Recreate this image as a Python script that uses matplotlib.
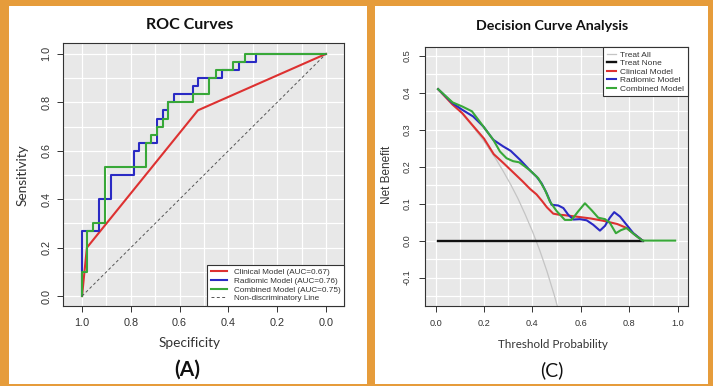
import matplotlib
matplotlib.use('Agg')
import matplotlib.pyplot as plt
from matplotlib.patches import Rectangle
from matplotlib import font_manager
import numpy as np

# ---------------- ROC data (specificity, sensitivity) ----------------
clin_spec = [1.0, 0.98, 0.525, 0.0]
clin_sens = [0.0, 0.2, 0.767, 1.0]

rad_spec = [1.0, 1.0, 0.93, 0.93, 0.881, 0.881, 0.786, 0.786, 0.765, 0.765, 0.694, 0.694,
            0.667, 0.667, 0.646, 0.646, 0.622, 0.622, 0.547, 0.547, 0.524, 0.524, 0.428,
            0.428, 0.357, 0.357, 0.286, 0.286, 0.0]
rad_sens = [0.0, 0.267, 0.267, 0.4, 0.4, 0.5, 0.5, 0.6, 0.6, 0.633, 0.633, 0.733,
            0.733, 0.767, 0.767, 0.8, 0.8, 0.833, 0.833, 0.867, 0.867, 0.9, 0.9,
            0.933, 0.933, 0.967, 0.967, 1.0, 1.0]

comb_spec = [1.0, 1.0, 0.981, 0.981, 0.954, 0.954, 0.905, 0.905, 0.739, 0.739, 0.718, 0.718,
             0.694, 0.694, 0.667, 0.667, 0.646, 0.646, 0.547, 0.547, 0.478, 0.478, 0.451,
             0.451, 0.383, 0.383, 0.332, 0.332, 0.0]
comb_sens = [0.0, 0.1, 0.1, 0.267, 0.267, 0.3, 0.3, 0.533, 0.533, 0.633, 0.633, 0.667,
             0.667, 0.7, 0.7, 0.733, 0.733, 0.8, 0.8, 0.833, 0.833, 0.9, 0.9,
             0.933, 0.933, 0.967, 0.967, 1.0, 1.0]

diag_spec = [1.0, 0.0]
diag_sens = [0.0, 1.0]

roc_labels = ["Clinical Model (AUC=0.67)", "Radiomic Model (AUC=0.76)",
              "Combined Model (AUC=0.75)", "Non-discriminatory Line"]
roc_xticks = [1.0, 0.8, 0.6, 0.4, 0.2, 0.0]
roc_yticks = [0.0, 0.2, 0.4, 0.6, 0.8, 1.0]

# ---------------- DCA data (threshold, net benefit) ----------------
all_thr = [0.01, 0.05, 0.10, 0.15, 0.20, 0.25, 0.28, 0.31, 0.34, 0.37, 0.40, 0.43, 0.46, 0.49, 0.51]
all_nb = [0.409, 0.384, 0.350, 0.312, 0.269, 0.220, 0.187, 0.152, 0.114, 0.071, 0.025,
          -0.026, -0.083, -0.147, -0.194]

none_thr = [0.01, 0.855]
none_nb = [0.0, 0.0]

clin_thr = [0.01, 0.07, 0.11, 0.15, 0.20, 0.24, 0.28, 0.32, 0.36, 0.39, 0.417, 0.44, 0.46,
            0.486, 0.51, 0.53, 0.58, 0.64, 0.69, 0.75, 0.79, 0.82, 0.855]
clin_nb = [0.41, 0.368, 0.345, 0.314, 0.276, 0.234, 0.21, 0.185, 0.16, 0.14, 0.125, 0.107,
           0.09, 0.073, 0.070, 0.069, 0.065, 0.06, 0.054, 0.045, 0.034, 0.018, 0.0]

rad_thr = [0.01, 0.07, 0.11, 0.155, 0.197, 0.238, 0.279, 0.31, 0.35, 0.39, 0.417, 0.438,
           0.459, 0.479, 0.507, 0.528, 0.548, 0.569, 0.596, 0.624, 0.651, 0.679, 0.70,
           0.72, 0.738, 0.762, 0.789, 0.817, 0.855]
rad_nb = [0.41, 0.372, 0.354, 0.336, 0.309, 0.273, 0.255, 0.243, 0.218, 0.19, 0.173, 0.155,
          0.128, 0.097, 0.095, 0.088, 0.07, 0.057, 0.058, 0.055, 0.043, 0.027, 0.04,
          0.062, 0.077, 0.065, 0.043, 0.02, 0.0]

comb_thr = [0.01, 0.07, 0.11, 0.15, 0.197, 0.238, 0.266, 0.293, 0.32, 0.345, 0.37, 0.39,
            0.424, 0.452, 0.472, 0.50, 0.534, 0.562, 0.589, 0.617, 0.645, 0.672, 0.70,
            0.72, 0.745, 0.765, 0.789, 0.824, 0.855, 0.99]
comb_nb = [0.41, 0.374, 0.363, 0.350, 0.309, 0.273, 0.241, 0.223, 0.215, 0.212, 0.20, 0.19,
           0.169, 0.137, 0.106, 0.08, 0.056, 0.056, 0.079, 0.101, 0.082, 0.062, 0.058,
           0.048, 0.02, 0.028, 0.034, 0.015, 0.0, 0.0]

dca_labels = ["Treat All", "Treat None", "Clinical Model", "Radiomic Model", "Combined Model"]
dca_xticks = [0.0, 0.2, 0.4, 0.6, 0.8, 1.0]
dca_yticks = [-0.1, 0.0, 0.1, 0.2, 0.3, 0.4, 0.5]

# ---------------- styling ----------------
RED = '#DD3131'
BLUE = '#2A2AC4'
GREEN = '#38A838'
ORANGE = '#E69C3B'
PANEL_BG = '#E8E8E8'
TXT = '#333333'

names = {f.name for f in font_manager.fontManager.ttflist}
NARROW = 'Liberation Sans Narrow' in names
SANS = 'Liberation Sans'
CAL = 'Lato'

W, H = 713, 386
fig = plt.figure(figsize=(W / 100, H / 100), dpi=100)
fig.patch.set_facecolor(ORANGE)


def fr(x0, y0, x1, y1):
    return [x0 / W, 1 - y1 / H, (x1 - x0) / W, (y1 - y0) / H]


for (x0, y0, x1, y1) in [(9, 6, 367, 384), (375, 6, 708, 384)]:
    fig.add_artist(Rectangle((x0 / W, 1 - y1 / H), (x1 - x0) / W, (y1 - y0) / H,
                             transform=fig.transFigure, facecolor='white',
                             edgecolor='none', zorder=0))


def style_axes(ax):
    ax.set_facecolor(PANEL_BG)
    for s in ax.spines.values():
        s.set_color('#333333')
        s.set_linewidth(0.8)
    ax.grid(which='both', color='white', linewidth=0.9)
    ax.set_axisbelow(True)
    ax.tick_params(which='major', direction='out', length=4.5, width=0.7, color='#333333',
                   labelcolor=TXT)
    ax.tick_params(which='minor', length=0)


# ---------------- ROC panel ----------------
ax1 = fig.add_axes(fr(63, 43, 344, 306))
style_axes(ax1)
ax1.set_xlim(1.078, -0.074)
ax1.set_ylim(-0.041, 1.045)
ax1.set_xticks(roc_xticks)
ax1.set_yticks(roc_yticks)
ax1.set_xticks(np.arange(0, 1.001, 0.1), minor=True)
ax1.set_yticks(np.arange(0, 1.001, 0.1), minor=True)
ax1.set_xticklabels([f"{v:.1f}" for v in roc_xticks], fontsize=7.8, family=SANS)
ax1.set_yticklabels([f"{v:.1f}" for v in roc_yticks], fontsize=7.8, family=SANS,
                    rotation=90, va='center')
ax1.tick_params(axis='x', pad=4)
ax1.tick_params(axis='y', pad=4)

l1, = ax1.plot(clin_spec, clin_sens, color=RED, lw=1.5, label=roc_labels[0])
l2, = ax1.plot(rad_spec, rad_sens, color=BLUE, lw=1.5, label=roc_labels[1])
l3, = ax1.plot(comb_spec, comb_sens, color=GREEN, lw=1.5, label=roc_labels[2])
l4, = ax1.plot(diag_spec, diag_sens, color='#555555', lw=0.7, ls=(0, (3, 2.5)),
               label=roc_labels[3])

leg1 = ax1.legend(handles=[l1, l2, l3, l4], loc='lower right', bbox_to_anchor=(1, 0),
                  borderaxespad=0, prop={'family': SANS, 'size': 5.9},
                  handlelength=2.0, handletextpad=0.8, borderpad=0.45,
                  labelspacing=0.12, fancybox=False, framealpha=1,
                  facecolor='white', edgecolor='#333333')
leg1.get_frame().set_linewidth(0.8)
for t in leg1.get_texts():
    t.set_color('#333333')

fig.text(190 / W, 1 - 25 / H, "ROC Curves", ha='center', va='center',
         fontsize=11.5, family=CAL, weight='bold', color='#111111')
fig.text(190 / W, 1 - 343 / H, "Specificity", ha='center', va='center',
         fontsize=9.8, family=CAL, color=TXT)
fig.text(23 / W, 1 - 175 / H, "Sensitivity", ha='center', va='center', rotation=90,
         fontsize=9.8, family=CAL, color=TXT)
fig.text(187 / W, 1 - 370 / H, "(A)", ha='center', va='center',
         fontsize=15, family=CAL, weight='bold', color='#111111')

# ---------------- DCA panel ----------------
ax2 = fig.add_axes(fr(425, 47, 688, 306))
style_axes(ax2)
ax2.set_xlim(-0.044, 1.043)
ax2.set_ylim(-0.177, 0.524)
ax2.set_xticks(dca_xticks)
ax2.set_yticks(dca_yticks)
ax2.set_xticks(np.arange(0, 1.001, 0.1), minor=True)
ax2.set_yticks(np.arange(-0.15, 0.501, 0.05), minor=True)
tick_fam = 'Liberation Sans Narrow' if NARROW else SANS
tick_sz = 7.9 if NARROW else 6.6
ax2.set_xticklabels([f"{v:.1f}" for v in dca_xticks], fontsize=tick_sz, family=tick_fam)
ax2.set_yticklabels([f"{v:.1f}" for v in dca_yticks], fontsize=tick_sz, family=tick_fam,
                    rotation=90, va='center')
ax2.tick_params(axis='x', pad=5)
ax2.tick_params(axis='y', pad=5)

d1, = ax2.plot(all_thr, all_nb, color='#C4C4C4', lw=0.9, label=dca_labels[0])
d2, = ax2.plot(none_thr, none_nb, color='#111111', lw=1.7, label=dca_labels[1])
d3, = ax2.plot(clin_thr, clin_nb, color=RED, lw=1.5, label=dca_labels[2])
d4, = ax2.plot(rad_thr, rad_nb, color=BLUE, lw=1.5, label=dca_labels[3])
d5, = ax2.plot(comb_thr, comb_nb, color=GREEN, lw=1.5, label=dca_labels[4])

leg_sz = 7.2 if NARROW else 6.0
leg2 = ax2.legend(handles=[d1, d2, d3, d4, d5], loc='upper right', bbox_to_anchor=(1, 1),
                  borderaxespad=0, prop={'family': tick_fam, 'size': leg_sz},
                  handlelength=1.1, handletextpad=0.5, borderpad=0.45,
                  labelspacing=0.08, fancybox=False, framealpha=1,
                  facecolor='white', edgecolor='#333333')
leg2.get_frame().set_linewidth(0.8)
for t in leg2.get_texts():
    t.set_color('#333333')

fig.text(552 / W, 1 - 26 / H, "Decision Curve Analysis", ha='center', va='center',
         fontsize=10.3, family=CAL, weight='bold', color='#111111')
fig.text(553 / W, 1 - 345 / H, "Threshold Probability", ha='center', va='center',
         fontsize=8.4, family=CAL, color='#333333')
fig.text(387 / W, 1 - 175 / H, "Net Benefit", ha='center', va='center', rotation=90,
         fontsize=8.5, family=SANS, color='#333333')
fig.text(552 / W, 1 - 370 / H, "(C)", ha='center', va='center',
         fontsize=14, family=CAL, color='#111111')

fig.savefig('out.png', dpi=100, facecolor=fig.get_facecolor())
